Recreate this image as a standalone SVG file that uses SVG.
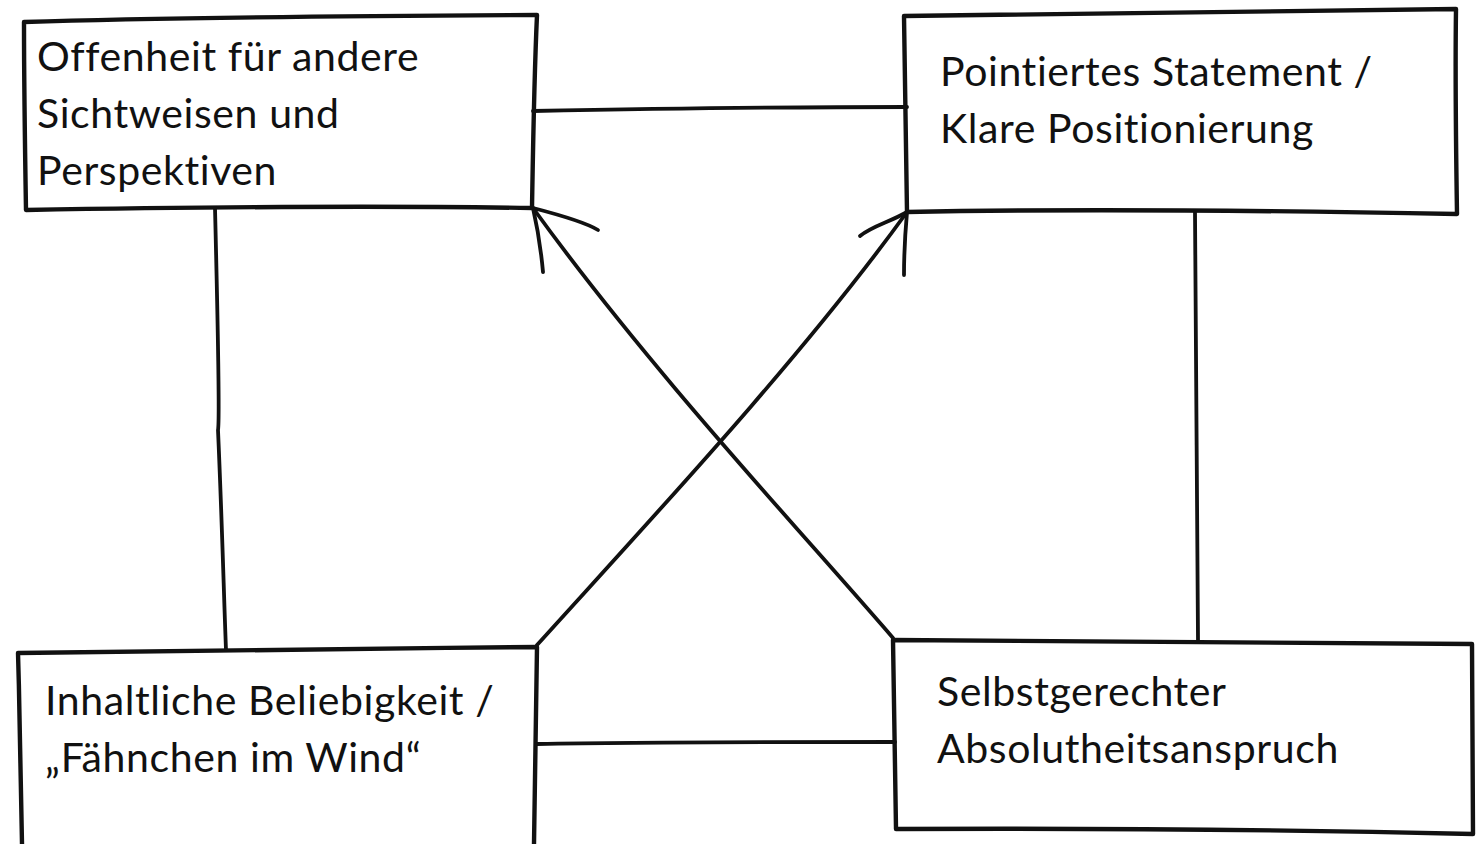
<svg xmlns="http://www.w3.org/2000/svg" width="1479" height="844" viewBox="0 0 1479 844">
<style>
.box{fill:none;stroke:#111;stroke-width:4.4;stroke-linejoin:round;stroke-linecap:round}
.ln{fill:none;stroke:#111;stroke-width:3.8;stroke-linecap:round;stroke-linejoin:round}
.t{font-family:Lato,"Open Sans","Liberation Sans",sans-serif;font-size:41px;letter-spacing:0.6px;font-variant-ligatures:none;fill:#111}
</style>
<rect width="1479" height="844" fill="#fff"/>
<g id="connectors">
<path class="ln" d="M533,111 C640,109 780,107 907,107"/>
<path class="ln" d="M537,744 C650,742 780,742 895,742"/>
<path class="ln" d="M215,208 C218,330 220,420 218,430 C222,520 224,600 226,650"/>
<path class="ln" d="M1195,212 C1196,350 1197,500 1198,640"/>
<path class="ln" d="M893,638 C800,530 650,370 533,208"/>
<path class="ln" d="M533,208 C560,215 585,222 598,230"/>
<path class="ln" d="M533,208 C538,230 541,250 543,272"/>
<path class="ln" d="M537,645 C650,520 800,360 907,212"/>
<path class="ln" d="M907,212 C890,222 872,226 860,236"/>
<path class="ln" d="M907,212 C905,235 904,255 904,275"/>
</g>
<g id="node-tl">
<path class="box" d="M24,22 C150,18 350,16 537,15 C534,80 533,150 532,208 C400,206 200,207 26,210 C25,150 24,80 24,22 Z"/>
<text class="t" x="37" y="71">Offenheit für andere</text>
<text class="t" x="37" y="128">Sichtweisen und</text>
<text class="t" x="37" y="185">Perspektiven</text>
</g>
<g id="node-tr">
<path class="box" d="M904,16 C1050,13 1250,11 1456,9 C1455,80 1456,150 1457,214 C1300,211 1100,208 907,212 C906,150 905,80 904,16 Z"/>
<text class="t" x="940" y="86">Pointiertes Statement /</text>
<text class="t" x="940" y="143">Klare Positionierung</text>
</g>
<g id="node-bl">
<path class="box" d="M18,653 C150,650 350,649 537,647 C536,720 535,790 534,844 M18,653 C20,720 21,790 22,844"/>
<text class="t" x="45" y="715">Inhaltliche Beliebigkeit /</text>
<text class="t" x="45" y="772">„Fähnchen im Wind“</text>
</g>
<g id="node-br">
<path class="box" d="M893,640 C1050,641 1250,642 1472,644 C1472,720 1473,780 1473,834 C1300,830 1100,828 896,829 C895,760 894,700 893,640 Z"/>
<text class="t" x="937" y="706">Selbstgerechter</text>
<text class="t" x="937" y="763">Absolutheitsanspruch</text>
</g>
</svg>
